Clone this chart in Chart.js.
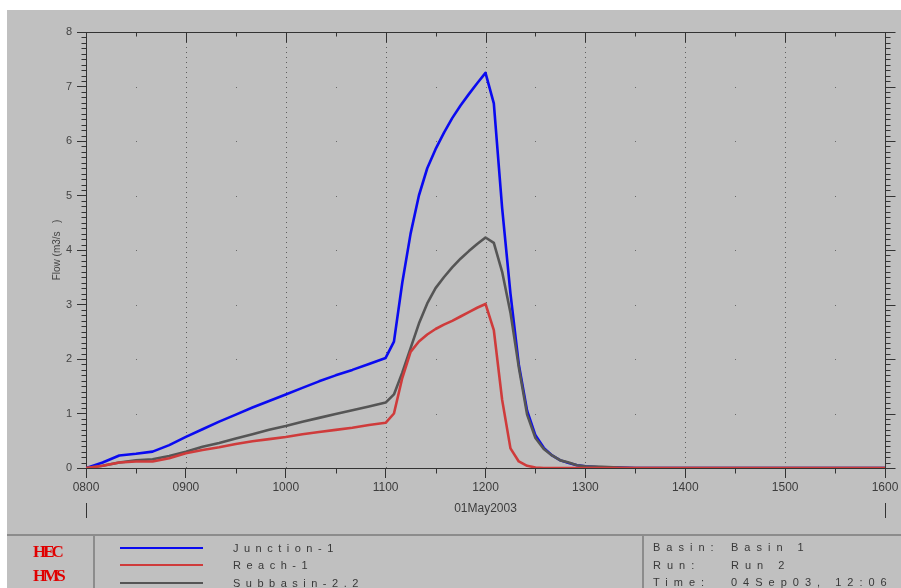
<!DOCTYPE html>
<html>
<head>
<meta charset="utf-8">
<script src="https://cdn.jsdelivr.net/npm/chart.js@4.4.1/dist/chart.umd.min.js"></script>
<style>
  body { margin: 0; background: #fff; }
  #wrap { position: relative; width: 901px; height: 588px; overflow: hidden; background: #fff; }
  #panel { position: absolute; left: 7px; top: 10px; right: 0; bottom: 0; background: #c0c0c0; }
  #plot { position: absolute; left: 0; top: 0; }
  .rule { position: absolute; background: #8c8c8c; }
  .logo { position: absolute; left: 33px; font: bold 17px "Liberation Serif", serif; color: #e00000; letter-spacing: -3px; line-height: 18px; }
  .key { position: absolute; left: 120px; width: 83px; height: 2px; }
  .txt { position: absolute; font: 11px "Liberation Sans", Arial, sans-serif; color: #383838; line-height: 14px; white-space: pre; }
  .series { left: 233px; letter-spacing: 5.5px; }
  .info { letter-spacing: 6px; }
</style>
</head>
<body>
<div id="wrap">
  <div id="panel"></div>
  <canvas id="plot" width="901" height="535"></canvas>

  <div class="rule" style="left:7px; right:0; top:534px; height:2px;"></div>
  <div class="rule" style="left:93px; width:2px; top:535px; bottom:0;"></div>
  <div class="rule" style="left:642px; width:2px; top:535px; bottom:0;"></div>

  <div class="logo" style="top:543px;">HEC</div>
  <div class="logo" style="top:567px;">HMS</div>

  <div class="key" style="top:547px; background:#0a0af0;"></div>
  <div class="key" style="top:564px; background:#cf3b3b;"></div>
  <div class="key" style="top:582px; background:#555555;"></div>
  <div class="txt series" style="top:541px;">Junction-1</div>
  <div class="txt series" style="top:558px;">Reach-1</div>
  <div class="txt series" style="top:576px;">Subbasin-2.2</div>

  <div class="txt info" style="left:653px; top:540px;">Basin:</div>
  <div class="txt info" style="left:731px; top:540px;">Basin 1</div>
  <div class="txt info" style="left:653px; top:558px;">Run:</div>
  <div class="txt info" style="left:731px; top:558px;">Run 2</div>
  <div class="txt info" style="left:653px; top:575px;">Time:</div>
  <div class="txt info" style="left:731px; top:575px;">04Sep03, 12:06</div>
</div>

<script>
// time stamps of the hydrograph ordinates (10 min, then 5 min around the peak)
const times = [
  "0800", "0810", "0820", "0830", "0840", "0850", "0900", "0910", "0920", "0930",
  "0940", "0950", "1000", "1010", "1020", "1030", "1040", "1050", "1100",
  "1105", "1110", "1115", "1120", "1125", "1130", "1135", "1140", "1145", "1150",
  "1155", "1200", "1205", "1210", "1215", "1220", "1225", "1230", "1235", "1240",
  "1245", "1250", "1255", "1300",
  "1310", "1320", "1330", "1400", "1430", "1500", "1530", "1600"
];

// flow, m3/s
const junction1 = [
  0, 0.10, 0.23, 0.26, 0.30, 0.42, 0.57, 0.71, 0.85, 0.98,
  1.11, 1.23, 1.35, 1.47, 1.59, 1.70, 1.80, 1.91, 2.02,
  2.32, 3.40, 4.30, 5.00, 5.50, 5.85, 6.15, 6.42, 6.65, 6.86,
  7.06, 7.25, 6.69, 4.77, 3.20, 1.90, 1.05, 0.60, 0.37, 0.23,
  0.14, 0.09, 0.05, 0.03,
  0.01, 0.01, 0, 0, 0, 0, 0, 0
];
const reach1 = [
  0, 0.04, 0.10, 0.12, 0.12, 0.18, 0.27, 0.33, 0.38, 0.44,
  0.49, 0.53, 0.57, 0.62, 0.66, 0.70, 0.74, 0.79, 0.83,
  1.00, 1.65, 2.13, 2.32, 2.45, 2.55, 2.63, 2.70, 2.78, 2.86,
  2.94, 3.01, 2.53, 1.25, 0.36, 0.12, 0.04, 0.01, 0, 0,
  0, 0, 0, 0,
  0, 0, 0, 0, 0, 0, 0, 0
];
const subbasin22 = [
  0, 0.04, 0.10, 0.14, 0.16, 0.22, 0.30, 0.39, 0.46, 0.54,
  0.62, 0.70, 0.77, 0.85, 0.92, 0.99, 1.06, 1.13, 1.20,
  1.35, 1.75, 2.20, 2.65, 3.02, 3.30, 3.50, 3.68, 3.84, 3.98,
  4.11, 4.23, 4.13, 3.60, 2.85, 1.85, 0.98, 0.55, 0.35, 0.23,
  0.14, 0.10, 0.05, 0.03,
  0.02, 0.01, 0, 0, 0, 0, 0, 0
];

const yMax = 8;
const hourTicks = [8, 9, 10, 11, 12, 13, 14, 15, 16];

const toHours = (t) => Number(t.slice(0, 2)) + Number(t.slice(2)) / 60;
const series = (vals) => vals.map((v, i) => ({ x: toHours(times[i]), y: v }));
const clock = (h) => String(h).padStart(2, "0") + "00";

const axisColor = "#333333";
const labelFont = "Liberation Sans";

// frame, minor ticks and dotted hour lines
const frame = {
  id: "frame",
  beforeDatasetsDraw(chart) {
    const { ctx, chartArea: a, scales: { x, y } } = chart;
    const seg = (x1, y1, x2, y2) => {
      ctx.beginPath();
      ctx.moveTo(x1, y1);
      ctx.lineTo(x2, y2);
      ctx.stroke();
    };
    ctx.save();
    ctx.lineWidth = 1;

    // dotted vertical lines on the hours
    ctx.strokeStyle = "#5e5e5e";
    ctx.setLineDash([1, 4]);
    hourTicks.slice(1, -1).forEach((h) => {
      const px = Math.round(x.getPixelForValue(h)) + 0.5;
      seg(px, a.top, px, a.bottom);
    });
    ctx.setLineDash([]);

    // single dots at half hours on whole flows
    ctx.fillStyle = "#6a6a6a";
    for (let h = 8.5; h < 16; h += 1) {
      for (let f = 1; f < yMax; f++) {
        ctx.fillRect(Math.round(x.getPixelForValue(h)), Math.round(y.getPixelForValue(f)), 1, 1);
      }
    }

    ctx.strokeStyle = axisColor;
    const right = Math.round(a.right) + 0.5;
    const top = Math.round(a.top) + 0.5;
    const left = Math.round(a.left) + 0.5;
    const bottom = Math.round(a.bottom) + 0.5;
    seg(right, a.top, right, a.bottom);
    seg(a.left, top, a.right, top);

    // flow ticks every 0.1 on both sides
    for (let k = 0; k <= yMax * 10; k++) {
      const py = Math.round(y.getPixelForValue(k / 10)) + 0.5;
      const major = k % 10 === 0;
      if (!major) seg(left - 5, py, left, py);
      seg(right, py, right + (major ? 10 : 5), py);
    }

    // time ticks: half hours short, hours long
    for (let m = 1; m < 16; m++) {
      const h = 8 + m / 2;
      const px = Math.round(x.getPixelForValue(h)) + 0.5;
      const major = m % 2 === 0;
      seg(px, top, px, top + (major ? 10 : 4));
      if (!major) seg(px, bottom, px, bottom + 5);
    }

    // day boundary marks under the date
    [8, 16].forEach((h) => {
      const px = Math.round(x.getPixelForValue(h)) + 0.5;
      seg(px, 503, px, 518);
    });
    ctx.restore();
  }
};

const flowChart = new Chart(document.getElementById("plot"), {
  type: "line",
  data: {
    datasets: [
      { label: "Junction-1", data: series(junction1), borderColor: "#0a0af0", order: 2 },
      { label: "Reach-1", data: series(reach1), borderColor: "#cf3b3b", order: 0 },
      { label: "Subbasin-2.2", data: series(subbasin22), borderColor: "#555555", order: 1 }
    ]
  },
  options: {
    responsive: false,
    animation: false,
    events: [],
    elements: {
      point: { radius: 0 },
      line: { borderWidth: 2.6, tension: 0, borderJoinStyle: "round" }
    },
    layout: { padding: { top: 32, right: 16, left: 0, bottom: 0 } },
    plugins: { legend: { display: false }, tooltip: { enabled: false } },
    scales: {
      x: {
        type: "linear",
        min: 8,
        max: 16,
        afterFit: (s) => { s.height = 67; },
        afterBuildTicks: (s) => { s.ticks = hourTicks.map((v) => ({ value: v })); },
        ticks: {
          autoSkip: false,
          maxRotation: 0,
          padding: 2,
          color: "#3c3c3c",
          font: { family: labelFont, size: 12 },
          callback: (v) => clock(v)
        },
        grid: { drawOnChartArea: false, tickLength: 10, tickColor: axisColor },
        border: { color: axisColor, width: 1 },
        title: {
          display: true,
          text: "01May2003",
          color: "#3c3c3c",
          font: { family: labelFont, size: 12 },
          padding: { top: 0, bottom: 19 }
        }
      },
      y: {
        min: 0,
        max: yMax,
        afterFit: (s) => { s.width = 86; },
        ticks: {
          stepSize: 1,
          padding: 5,
          color: "#444444",
          font: { family: labelFont, size: 11 }
        },
        grid: { drawOnChartArea: false, tickLength: 9, tickColor: axisColor },
        border: { color: axisColor, width: 1 },
        title: {
          display: true,
          text: "Flow (m3/s   )",
          color: "#444444",
          font: { family: labelFont, size: 10 },
          padding: { top: 51, bottom: 0 }
        }
      }
    }
  },
  plugins: [frame]
});
</script>
</body>
</html>
